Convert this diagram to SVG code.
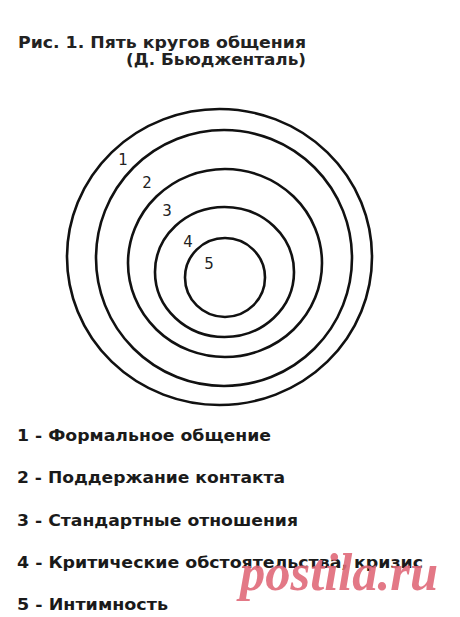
<svg xmlns="http://www.w3.org/2000/svg" width="460" height="617" viewBox="0 0 460 617">
<style>
.title{font-family:"DejaVu Sans","Liberation Sans",sans-serif;font-weight:bold;font-size:15px;fill:#222}
.num{font-family:"DejaVu Sans","Liberation Sans",sans-serif;font-size:15px;fill:#222}
.leg{font-family:"DejaVu Sans","Liberation Sans",sans-serif;font-weight:bold;font-size:15.5px;fill:#1a1a1a}
.ring{fill:none;stroke:#111;stroke-width:2.6}
.wm{font-family:"Liberation Serif",serif;font-style:italic;font-weight:bold;font-size:52px;fill:#e06a7a;opacity:0.9}
</style>
<rect width="460" height="617" fill="#fff"/>
<g id="title">
<text class="title" x="18" y="48" textLength="288" lengthAdjust="spacingAndGlyphs">Рис. 1. Пять кругов общения</text>
<text class="title" x="126" y="65" textLength="180" lengthAdjust="spacingAndGlyphs">(Д. Бьюдженталь)</text>
</g>
<g id="circle1"><ellipse class="ring" cx="219.5" cy="257" rx="152.5" ry="148"/><text class="num" x="123" y="165" text-anchor="middle">1</text></g>
<g id="circle2"><ellipse class="ring" cx="224" cy="258" rx="128" ry="128"/><text class="num" x="147" y="188" text-anchor="middle">2</text></g>
<g id="circle3"><ellipse class="ring" cx="225" cy="263" rx="97" ry="94"/><text class="num" x="167" y="216" text-anchor="middle">3</text></g>
<g id="circle4"><ellipse class="ring" cx="224.5" cy="272" rx="69.5" ry="65"/><text class="num" x="188" y="247" text-anchor="middle">4</text></g>
<g id="circle5"><ellipse class="ring" cx="225" cy="277.5" rx="40" ry="39.5"/><text class="num" x="209" y="269" text-anchor="middle">5</text></g>
<g id="legend">
<text class="leg" x="17" y="441" textLength="254" lengthAdjust="spacingAndGlyphs">1 - Формальное общение</text>
<text class="leg" x="17" y="483" textLength="268" lengthAdjust="spacingAndGlyphs">2 - Поддержание контакта</text>
<text class="leg" x="17" y="526" textLength="281" lengthAdjust="spacingAndGlyphs">3 - Стандартные отношения</text>
<text class="leg" x="17" y="568" textLength="406" lengthAdjust="spacingAndGlyphs">4 - Критические обстоятельства, кризис</text>
<text class="leg" x="17" y="610" textLength="151" lengthAdjust="spacingAndGlyphs">5 - Интимность</text>
</g>
<g id="watermark"><text class="wm" x="240" y="590" textLength="198" lengthAdjust="spacingAndGlyphs">postila.ru</text></g>
</svg>
